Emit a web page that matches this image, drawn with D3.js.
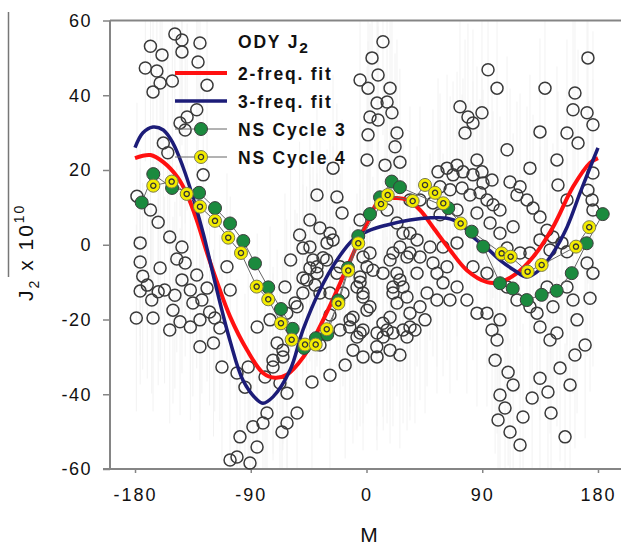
<!DOCTYPE html>
<html>
<head>
<meta charset="utf-8">
<script src="https://cdn.jsdelivr.net/npm/d3@7"></script>
<style>
  body { margin: 0; background: #fff; }
  svg { display: block; font-family: "Liberation Sans", Arial, sans-serif; }
</style>
</head>
<body>
<div id="chart-area"></div>
<script>
// ODY J2 observations (M in degrees, J2 x 1e10)
const odyPoints = [
  [-149,56.4],[-143.5,54.8],[-129.5,54],[-143.5,51.6],[-168,53.1],[-159,50.8],[-172,47.3],[-163,46.5],
  [-160.5,43.3],[-151,43.8],[-166,40.9],[-131,48.9],[-124,42.7],[-132,36.1],[-139.5,34.2],[-145,32.6],
  [-141,30.7],[-158,27.2],[-154.5,24.6],[-127,18.7],[-178.5,13],[-168,9.3],[-162,6],[-176,0.5],
  [-153,2.1],[-143.5,-0.6],[-147.5,-3.8],[-160.5,-6.2],[-176,-4.6],[-174,-8.4],[-176,-12.4],[-179,-19.6],
  [-162,-12.6],[-141,-4.9],[-132,-8.1],[-143.5,-9.4],[-170.5,-10.8],[-167,-14.8],[-166,-19.6],[-150.5,-17.5],
  [-145,-20.6],[-137,-22],[-135,-15.6],[-128,-14.8],[-124,-11.6],[-122,-18],[-118,-19.6],[-114,-22.3],
  [-129.5,-27.3],[-119,-26.3],[-108.5,-5.9],[-106,-12.1],
  [-157,-12.1],[-149,-13.5],[-137,-12.1],[-129.5,-20.1],[-153,-22.8],
  [-85,-22],[-75,-20.1],[-69.5,-26.3],[-65,-28.2],[-62,-18.3],[-54,-16.6],[-49.5,-12.9],[-46.5,-9.4],
  [-38.5,-7.6],[-31,-4.1],[-2.7,-3.3],[5,-6.8],[-5,-10],[-2.7,-12.9],[0.4,-17.5],[-13,-22],
  [-5,-23.6],[-10.5,-28.2],[-2.7,-30],[8,-27.3],[13,-24.7],[28.4,-22.8],[28.4,-11.3],[20.6,-12.9],
  [-28.4,-12.9],[-112.4,-32.7],[-100.7,-34.3],[-92,-32.7],[-94.5,-38.1],[-78.9,-35.4],[-72.7,-32.7],[-67.3,-37],
  [-61.8,-39.7],[-54,-45],[-61.8,-47.7],[-77.4,-45],[-80.5,-47.7],[-88.3,-48.7],[-98.4,-51.4],[-85.1,-54.1],
  [-106.1,-57.6],[-100.7,-56.8],[-90.6,-58.4],[-42.4,-36.7],[-65.7,-50.1],
  [-38.5,13.3],[-23,12.8],[-19,8.5],[-36.2,4.5],[-28.4,3.1],[-30.7,0.5],[-49.4,-0.9],[-41.6,-4.1],
  [-33.8,-3.5],[-44,-6.2],[-49.4,-8.9],[-23,-7.6],[-5,6.6],[2.7,-2.2],[0.4,-5.9],[-5,-8.6],
  [-7.4,-11.3],[-2.7,-14],[2.7,-16.6],[-12.8,-20.1],[-7.4,-24.7],[12.8,-21],[18.3,-19.4],[16,-22.8],
  [31.5,-24.7],[8.2,-30],[20.6,-2.2],[26,-0.6],[31.5,-3.3],[23.7,-7.6],[20.6,-11.3],[31.5,-14],
  [33.8,3.1],[39.3,1.3],[-63.4,-11.3],[-55.6,-15.6],[-65,-30],[-72.7,-30.9],
  [-44,6.6],[-52,2.6],[-59,-4.1],[-40,-10.8],[-28.4,-18.8],[-20.6,-22.8],[-36.2,-26.8],[-16.6,-32.2],
  [-28.4,-34.9],[18.3,-28.2],[26,-29.5],[37.7,-22.8],[45.5,-20.1],
  [8.2,37.9],[16,38.2],[2.7,34.2],[9,33.4],[19.8,35.3],[23.7,29.9],[1.2,29.4],[22.2,26.2],
  [0.4,22.7],[14.4,21.3],[26,22.1],[-26,20.5],[12.8,54.3],[4.3,50],[9,45.4],[18.3,41.9],
  [-5,44.1],[1.2,41.9],
  [72.7,36.9],[78.9,34.2],[89.8,35.3],[82.8,32.6],[76.6,29.9],[85.9,22.7],[109.3,25.4],[127.1,20.5],
  [134.9,30.2],[155.9,29.9],[160.6,36.1],[171.5,35.3],[176.1,32.1],[164.5,27.2],[148.1,22.7],[176.1,19.2],
  [172.2,14.6],[148.9,16],[155.9,12],[175.4,12],[176.1,9.3],[94.5,46.8],[101.5,41.9],[138.8,41.9],
  [162.1,40.6],[172.2,50],
  [55.6,19.5],[62.6,20.5],[70.4,21.3],[67.3,18.7],[75,19.5],[82.8,18.7],[89.8,19.5],[90.6,16.5],
  [57.2,15.5],[65,14.7],[80.5,13.3],[88.3,13.9],[93.7,12],[98.4,10.7],[103.8,9.3],[111.6,16.8],
  [119.4,15.5],[117,13.3],[124.8,12],[129.5,9.8],[134.9,7.4],[140.4,3.9],[145,2.1],[152,0.5],
  [142.7,-1.4],[119.4,-2.2],[109.3,-0.9],[127.1,-2.2],[114,4.8],[103.8,3.1],[96.1,5.8],[85.9,8.5],
  [51.7,11.2],[57.2,8],[70.4,9.3],
  [97.6,17.3],[74.3,15.2],[155.9,-1.9],[134.9,1.3],[70.4,0.5],[59.5,-0.6],[49.4,-0.6],[82.8,-5.9],
  [93.7,-7.6],[109.3,-11.3],[78.1,-14.8],[85.9,-18.3],[117,-14.8],[127.1,-16.6],[140.4,-11.3],[155.9,-11.3],
  [160.6,-14.8],[163.7,-20.1],[33.8,12],[41.6,12],
  [16,9.3],[23.7,5.8],[28.4,3.1],[33.8,-2.2],[41.6,-3.3],[18.3,-4.1],[12.8,-7.6],[26,-9.4],
  [39.3,-7.6],[51.7,-4.9],[54.8,-7.6],[59.5,-10.2],[47.1,-12.9],[54.8,-14.8],[64.9,-14.8],[70.4,-11.3],
  [62.6,-5.9],[41.6,-16.6],[33.8,-18.3],[23.7,-15.6],
  [93.7,-18.3],[103.8,-20.1],[97.6,-22.8],[101.5,-25.5],[132.6,-18.3],[145,-16.6],[134.9,-22],[142.7,-25.5],
  [148.1,-23.6],[176.1,-7.6],[173.8,-14.3],[171.5,-4.9],
  [-44,-0.6],[-26,1.3],[-20.6,-5.9],[-38.5,-5.9],[-36.2,-12.9],[-18.3,-12.9],[-10.5,-19.4],[-2.7,-22.8],
  [8.2,-23.6],[20.6,-23.6],[33.8,-22],
  [100,-30.9],[110.1,-34.1],[114,-37.5],[103.8,-40.2],[107.7,-43.7],[102.3,-46.9],[111.6,-50.1],[119.4,-53.6],
  [121.7,-46.1],[128.8,-41],[134.9,-35.7],[141.1,-39.4],[143.5,-45],[154.4,-51.4],[150.5,-33],[158.3,-37.5],
  [170,-26.8],[162.1,-29.5]
];
const errHalf = 25;

// 2-frequency fit
const fit2 = [
  [-180,23.2],[-168,24],[-158,22.1],[-147,18.1],[-140,13.8],[-132,6.6],[-124,-2.2],[-116,-10.2],
  [-106,-19.3],[-93,-28.1],[-80.5,-34.3],[-71,-35.6],[-62,-34.8],[-49,-30],[-41.6,-25.5],[-28,-16],
  [-15,-6],[0.4,5.8],[10.5,12],[23.7,12.5],[31.5,12],[41.6,9.3],[51.7,4.7],[64.9,-1.4],
  [78,-6.8],[93.7,-10],[103.8,-10],[117,-7.6],[129.5,-3.3],[145,4.7],[160.6,15.5],[173.8,21.9],[180,23.2]
];

// 3-frequency fit
const fit3 = [
  [-180,26],[-174,29.9],[-166,31.5],[-158,30.7],[-150.5,27.2],[-142.7,20.8],[-135,12.8],[-127,3.1],
  [-116.3,-12.2],[-106.2,-25.6],[-96,-36.3],[-85,-41.5],[-80.5,-42.4],[-72.7,-40.7],[-59.5,-33.6],[-49.4,-22.8],
  [-36.2,-12.1],[-23,-4.1],[-10.5,1.3],[2.7,3.9],[16,5.3],[33.8,6.6],[50,7.2],[62.6,7.1],
  [72.7,5.8],[82.8,2.1],[93.7,-0.9],[103.8,-4.1],[114,-6.6],[124.8,-8.6],[134.9,-6.6],[145,-2.2],
  [155.9,4.7],[166,13.8],[174,20.8],[180,25.9]
];

// NS Cycle 3
const cycle3 = [
  [-174.8,11.3],[-165.8,18.9],[-151.2,15.2],[-130.2,13.9],[-117.8,9.8],[-106.1,5.7],[-95.8,1.0],[-86.7,-5.0],
  [-76.4,-11.4],[-66.5,-17.2],[-57.4,-22.5],[-48.6,-27.6],[-39.3,-25.0],[-30.5,-24.0],[-21.9,-14.9],[-14.4,-6.2],
  [-6.4,2.3],[2.7,8.2],[10.5,12.7],[19.6,16.9],[26.0,15.4],[63.6,9.8],[81.8,3.5],[90.8,-0.5],
  [103.8,-10.3],[113.7,-11.7],[124.6,-14.8],[136.2,-13.4],[147.9,-12.3],[159.6,-7.6],[171.2,0.4],[183.7,8.2]
];

// NS Cycle 4
const cycle4 = [
  [-165.8,15.8],[-151.5,16.9],[-139.8,13.6],[-129.5,10.2],[-117.8,6.4],[-107.5,1.9],[-97.6,-2.2],[-85.4,-11.2],
  [-76.4,-14.6],[-66.5,-21.0],[-58.2,-25.4],[-47.8,-26.7],[-39.5,-26.7],[-30.9,-22.6],[-21.9,-15.7],[-14.2,-6.9],
  [-6.4,0.4],[11.3,10.9],[16.5,13.3],[35.9,11.7],[45.5,16.0],[53.3,13.9],[59.7,11.1],[73.2,5.7],
  [105.1,-2.3],[112.1,-3.2],[125.3,-7.2],[136.2,-5.4],[162.9,-0.5],[173.2,4.7]
];

const xTicks = [-180, -90, 0, 90, 180];
const yTicks = [-60, -40, -20, 0, 20, 40, 60];
const legendItems = ["2-freq. fit", "3-freq. fit", "NS Cycle 3", "NS Cycle 4"];

let svg = d3.select("#chart-area")
    .append("svg")
    .attr("width", 621)
    .attr("height", 546);

let x = d3.scaleLinear().domain([-200, 200]).range([109.3, 623.7]);
let y = d3.scaleLinear().domain([-60, 60]).range([469, 20.5]);

const axisColor = "#858585";

// faint error bars
svg.append("g").selectAll("line").data(odyPoints).enter().append("line")
    .attr("x1", d => x(d[0])).attr("x2", d => x(d[0]))
    .attr("y1", d => y(Math.min(60, d[1] + errHalf)))
    .attr("y2", d => y(Math.max(-60, d[1] - errHalf)))
    .attr("stroke", "#f2f2f2")
    .attr("stroke-width", 1);

// y axis
let yAxis = svg.append("g")
    .attr("transform", "translate(110,0)")
    .call(d3.axisLeft(y).tickValues(yTicks).tickFormat(d => String(d)).tickSize(7).tickPadding(11));
yAxis.select(".domain").remove();
yAxis.selectAll(".tick line").attr("stroke", axisColor).attr("stroke-width", 1.5);
yAxis.selectAll(".tick text")
    .attr("font-size", 18).attr("fill", "#111")
    .attr("font-family", "Liberation Sans, Arial, sans-serif")
    .style("letter-spacing", "1.5px");

// x axis
let xAxis = svg.append("g")
    .attr("transform", "translate(0,469)")
    .call(d3.axisBottom(x).tickValues(xTicks).tickFormat(d => String(d)).tickSize(4).tickPadding(15));
xAxis.select(".domain").remove();
xAxis.selectAll(".tick line").attr("stroke", axisColor).attr("stroke-width", 1.5);
xAxis.selectAll(".tick text")
    .attr("font-size", 18).attr("fill", "#111")
    .attr("font-family", "Liberation Sans, Arial, sans-serif")
    .style("letter-spacing", "2px");

// frame lines
svg.append("line").attr("x1", 110).attr("x2", 110).attr("y1", 20.5).attr("y2", 469)
    .attr("stroke", axisColor).attr("stroke-width", 2);
svg.append("line").attr("x1", 103).attr("x2", 621).attr("y1", 469).attr("y2", 469)
    .attr("stroke", axisColor).attr("stroke-width", 2);
svg.append("line").attr("x1", 110).attr("x2", 621).attr("y1", 20.5).attr("y2", 20.5)
    .attr("stroke", axisColor).attr("stroke-width", 2);

// scatter
svg.append("g").selectAll("circle").data(odyPoints).enter().append("circle")
    .attr("cx", d => x(d[0]))
    .attr("cy", d => y(d[1]))
    .attr("r", 6)
    .attr("fill", "none")
    .attr("stroke", "#3a3a3a")
    .attr("stroke-width", 1.5);

// fits
let line = d3.line().x(d => x(d[0])).y(d => y(d[1])).curve(d3.curveCatmullRom);
svg.append("path").datum(fit2).attr("d", line)
    .attr("fill", "none").attr("stroke", "#ff1010").attr("stroke-width", 4);
svg.append("path").datum(fit3).attr("d", line)
    .attr("fill", "none").attr("stroke", "#1c1c78").attr("stroke-width", 3.5);

// NS cycles
let straight = d3.line().x(d => x(d[0])).y(d => y(d[1]));
[cycle3, cycle4].forEach(function (c) {
    svg.append("path").datum(c).attr("d", straight)
        .attr("fill", "none").attr("stroke", "#666").attr("stroke-width", 1);
});

function greenMark(sel) {
    sel.append("circle").attr("r", 6.5)
        .attr("fill", "#1b8a3e").attr("stroke", "#3d3d3d").attr("stroke-width", 1);
}
function yellowMark(sel) {
    sel.append("circle").attr("r", 6.5)
        .attr("fill", "#f3ec00").attr("stroke", "#7a7a50").attr("stroke-width", 1);
    sel.append("circle").attr("r", 2.6)
        .attr("fill", "none").attr("stroke", "#333").attr("stroke-width", 1.3);
}

svg.append("g").selectAll("g").data(cycle3).enter().append("g")
    .attr("transform", d => `translate(${x(d[0])},${y(d[1])})`)
    .call(greenMark);
svg.append("g").selectAll("g").data(cycle4).enter().append("g")
    .attr("transform", d => `translate(${x(d[0])},${y(d[1])})`)
    .call(yellowMark);

// legend
let legend = svg.append("g")
    .attr("font-weight", "bold")
    .attr("font-size", 17.5)
    .attr("fill", "#111")
    .style("letter-spacing", "1.8px");

let title = legend.append("text").attr("x", 238).attr("y", 48);
title.append("tspan").text("ODY J");
title.append("tspan").attr("dy", 5).attr("font-size", 15.5).text("2");

const rowY = [73, 101, 129, 157];
legendItems.forEach(function (name, i) {
    let ly = rowY[i];
    if (i === 0 || i === 1) {
        legend.append("line").attr("x1", 175).attr("x2", 227).attr("y1", ly).attr("y2", ly)
            .attr("stroke", i === 0 ? "#ff1010" : "#1c1c78")
            .attr("stroke-width", i === 0 ? 4 : 3.5);
    } else {
        legend.append("line").attr("x1", 175).attr("x2", 227).attr("y1", ly).attr("y2", ly)
            .attr("stroke", "#666").attr("stroke-width", 1);
        let g = legend.append("g").attr("transform", `translate(201,${ly})`);
        if (i === 2) greenMark(g); else yellowMark(g);
    }
    legend.append("text").attr("x", 238).attr("y", ly + 7).text(name);
});

// axis titles
svg.append("text")
    .attr("x", 369).attr("y", 542)
    .attr("text-anchor", "middle")
    .attr("font-size", 21).attr("fill", "#111")
    .text("M");

let yTitle = svg.append("text")
    .attr("transform", "translate(33,301) rotate(-90)")
    .attr("font-size", 21).attr("fill", "#111")
    .style("letter-spacing", "2px");
yTitle.append("tspan").text("J");
yTitle.append("tspan").attr("dy", 6).attr("font-size", 14).text("2");
yTitle.append("tspan").attr("dy", -6).text(" x 10");
yTitle.append("tspan").attr("dy", -9).attr("font-size", 14).text("10");

svg.append("line").attr("x1", 8.5).attr("x2", 8.5).attr("y1", 12).attr("y2", 277)
    .attr("stroke", "#777").attr("stroke-width", 1.5);
</script>
</body>
</html>
